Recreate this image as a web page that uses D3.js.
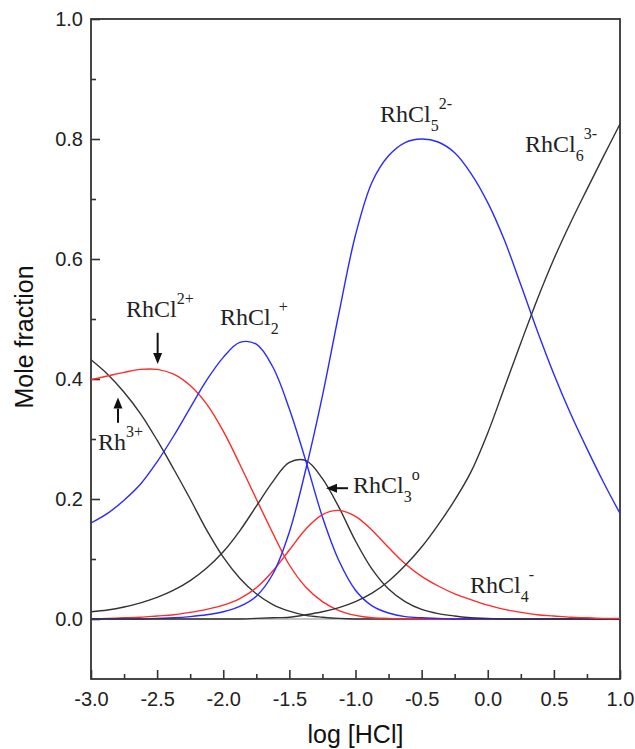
<!DOCTYPE html>
<html>
<head>
<meta charset="utf-8">
<script src="https://cdn.jsdelivr.net/npm/d3@7"></script>
<style>
  body { margin: 0; background: #fff; }
  .axis text { font-family: "Liberation Sans", Arial, sans-serif; font-size: 20px; fill: #222; }
  .axis path { display: none; }
  .axis line { stroke: #333; stroke-width: 1.6px; }
  .title { font-family: "Liberation Sans", Arial, sans-serif; font-size: 25px; fill: #111; }
  .species { font-family: "Liberation Serif", "Times New Roman", serif; font-size: 24px; fill: #222; }
</style>
</head>
<body>
<div id="chart"></div>
<script>
// log [HCl] sample points
const logHCl = [-3.0, -2.875, -2.75, -2.625, -2.5, -2.375, -2.25, -2.125, -2.0, -1.875, -1.75, -1.625,
  -1.5, -1.375, -1.25, -1.125, -1.0, -0.875, -0.75, -0.625, -0.5, -0.375, -0.25, -0.125,
  0.0, 0.125, 0.25, 0.375, 0.5, 0.625, 0.75, 0.875, 1.0];

// mole fractions
const rh = [0.432, 0.408, 0.378, 0.342, 0.298, 0.250, 0.200, 0.148, 0.103, 0.068, 0.042, 0.024,
  0.013, 0.006, 0.003, 0.001, 0, 0, 0, 0, 0, 0, 0, 0, 0, 0, 0, 0, 0, 0, 0, 0, 0];
const rhCl = [0.399, 0.405, 0.411, 0.416, 0.416, 0.408, 0.389, 0.358, 0.313, 0.258, 0.200, 0.143,
  0.090, 0.053, 0.029, 0.014, 0.006, 0.002, 0.001, 0, 0, 0, 0, 0, 0, 0, 0, 0, 0, 0, 0, 0, 0];
const rhCl2 = [0.160, 0.176, 0.198, 0.225, 0.262, 0.305, 0.352, 0.398, 0.436, 0.461, 0.458, 0.420,
  0.350, 0.263, 0.170, 0.097, 0.048, 0.022, 0.010, 0.004, 0.002, 0.001, 0, 0, 0, 0, 0, 0, 0, 0, 0, 0, 0];
const rhCl3 = [0.012, 0.015, 0.020, 0.027, 0.036, 0.048, 0.064, 0.085, 0.112, 0.147, 0.188, 0.229,
  0.261, 0.264, 0.234, 0.186, 0.130, 0.083, 0.050, 0.029, 0.016, 0.009, 0.005, 0.002, 0.001, 0, 0, 0, 0, 0, 0, 0, 0];
const rhCl4 = [0, 0.001, 0.002, 0.003, 0.005, 0.007, 0.011, 0.016, 0.023, 0.034, 0.052, 0.080,
  0.115, 0.150, 0.174, 0.181, 0.171, 0.148, 0.119, 0.092, 0.071, 0.055, 0.042, 0.032,
  0.023, 0.016, 0.011, 0.007, 0.005, 0.003, 0.002, 0.001, 0.001];
const rhCl5 = [0, 0, 0, 0, 0.001, 0.002, 0.004, 0.007, 0.012, 0.021, 0.038, 0.075,
  0.145, 0.250, 0.372, 0.510, 0.640, 0.728, 0.772, 0.794, 0.800, 0.795, 0.777, 0.742,
  0.694, 0.632, 0.557, 0.480, 0.408, 0.343, 0.284, 0.228, 0.176];
const rhCl6 = [0, 0, 0, 0, 0, 0, 0, 0, 0, 0, 0.001, 0.002,
  0.003, 0.007, 0.012, 0.019, 0.029, 0.043, 0.063, 0.089, 0.120, 0.157, 0.198, 0.246,
  0.310, 0.385, 0.460, 0.533, 0.600, 0.660, 0.716, 0.771, 0.825];

const xTicks = [-3.0, -2.5, -2.0, -1.5, -1.0, -0.5, 0.0, 0.5, 1.0];
const yTicks = [0.0, 0.2, 0.4, 0.6, 0.8, 1.0];

class SpeciationChart {
  constructor(parentElement) {
    this.parentElement = parentElement;
    this.series = [
      { values: rh, color: "#333" },
      { values: rhCl, color: "#ff2a2a" },
      { values: rhCl2, color: "#2a2aff" },
      { values: rhCl3, color: "#333" },
      { values: rhCl4, color: "#ff2a2a" },
      { values: rhCl5, color: "#2a2aff" },
      { values: rhCl6, color: "#333" },
    ];
    this.initVis();
  }

  initVis() {
    let vis = this;

    vis.margin = { top: 19, right: 15, bottom: 70, left: 91 };
    vis.width = 635 - vis.margin.left - vis.margin.right;
    vis.height = 749 - vis.margin.top - vis.margin.bottom;

    vis.svg = d3.select("#" + vis.parentElement)
      .append("svg")
      .attr("width", 635)
      .attr("height", 749)
      .append("g")
      .attr("transform", `translate(${vis.margin.left}, ${vis.margin.top})`);

    vis.x = d3.scaleLinear().domain([-3, 1]).range([0, vis.width]);
    vis.y = d3.scaleLinear().domain([-0.1, 1.0]).range([vis.height, 0]);

    // minor ticks (inward)
    vis.svg.append("g").attr("class", "axis")
      .attr("transform", `translate(0, ${vis.height})`)
      .call(d3.axisBottom(vis.x).tickValues(d3.range(-2.75, 1, 0.5)).tickSizeInner(-5).tickSizeOuter(0).tickFormat(""));
    vis.svg.append("g").attr("class", "axis")
      .call(d3.axisLeft(vis.y).tickValues([0.1, 0.3, 0.5, 0.7, 0.9]).tickSizeInner(-5).tickSizeOuter(0).tickFormat(""));

    // major ticks
    vis.svg.append("g").attr("class", "axis")
      .attr("transform", `translate(0, ${vis.height})`)
      .call(d3.axisBottom(vis.x).tickValues(xTicks).tickSizeInner(-9).tickSizeOuter(0)
        .tickPadding(13).tickFormat(d3.format(".1f")));
    vis.svg.append("g").attr("class", "axis")
      .call(d3.axisLeft(vis.y).tickValues(yTicks).tickSizeInner(-9).tickSizeOuter(0)
        .tickPadding(8).tickFormat(d3.format(".1f")));

    // replace unicode minus with hyphen like the original
    vis.svg.selectAll(".axis text").text(function () { return this.textContent.replace("\u2212", "-"); });

    // zero line
    vis.svg.append("line")
      .attr("x1", 0).attr("x2", vis.width)
      .attr("y1", vis.y(0)).attr("y2", vis.y(0))
      .attr("stroke", "#888").attr("stroke-width", 1.2);

    // frame
    vis.svg.append("rect")
      .attr("width", vis.width).attr("height", vis.height)
      .attr("fill", "none").attr("stroke", "#333").attr("stroke-width", 1.8);

    // axis titles
    vis.svg.append("text").attr("class", "title")
      .attr("text-anchor", "middle")
      .attr("transform", `translate(${-58}, ${318}) rotate(-90)`)
      .text("Mole fraction");
    vis.svg.append("text").attr("class", "title")
      .attr("text-anchor", "middle")
      .attr("x", vis.width / 2)
      .attr("y", vis.height + 64)
      .text("log [HCl]");

    vis.line = d3.line()
      .x((d) => vis.x(d[0]))
      .y((d) => vis.y(d[1]))
      .curve(d3.curveCatmullRom.alpha(0.5));

    vis.updateVis();
  }

  updateVis() {
    let vis = this;

    vis.svg.selectAll(".species-line")
      .data(vis.series)
      .enter()
      .append("path")
      .attr("class", "species-line")
      .attr("fill", "none")
      .attr("stroke", (d) => d.color)
      .attr("stroke-width", 1.4)
      .attr("d", (d) => vis.line(logHCl.map((x, i) => [x, d.values[i]])));

    // species labels: [main, sub, sup]
    let labels = [
      { x: -2.735, y: 0.503, main: "RhCl", sub: "", sup: "2+" },
      { x: -2.947, y: 0.282, main: "Rh", sub: "", sup: "3+" },
      { x: -2.025, y: 0.49, main: "RhCl", sub: "2", sup: "+" },
      { x: -1.019, y: 0.21, main: "RhCl", sub: "3", sup: "o" },
      { x: -0.134, y: 0.043, main: "RhCl", sub: "4", sup: "-" },
      { x: -0.815, y: 0.828, main: "RhCl", sub: "5", sup: "2-" },
      { x: 0.282, y: 0.778, main: "RhCl", sub: "6", sup: "3-" },
    ];

    labels.forEach((l) => {
      let t = vis.svg.append("text").attr("class", "species")
        .attr("x", vis.x(l.x)).attr("y", vis.y(l.y));
      t.append("tspan").text(l.main);
      let shift = 0;
      if (l.sub) {
        t.append("tspan").attr("dy", 9).attr("font-size", 16).text(l.sub);
        shift = 9;
      }
      if (l.sup) {
        t.append("tspan").attr("dy", -shift - 13).attr("font-size", 16).text(l.sup);
      }
    });

    // arrows
    let arrows = [
      { x1: -2.496, y1: 0.477, x2: -2.496, y2: 0.425 },
      { x1: -2.796, y1: 0.327, x2: -2.796, y2: 0.369 },
      { x1: -1.057, y1: 0.218, x2: -1.223, y2: 0.218 },
    ];
    arrows.forEach((a) => {
      let x1 = vis.x(a.x1), y1 = vis.y(a.y1), x2 = vis.x(a.x2), y2 = vis.y(a.y2);
      let ang = Math.atan2(y2 - y1, x2 - x1);
      let len = 11, half = 4.5;
      let bx = x2 - len * Math.cos(ang), by = y2 - len * Math.sin(ang);
      vis.svg.append("line")
        .attr("x1", x1).attr("y1", y1).attr("x2", bx).attr("y2", by)
        .attr("stroke", "#111").attr("stroke-width", 2);
      vis.svg.append("path")
        .attr("d", `M${x2},${y2}L${bx - half * Math.sin(ang)},${by + half * Math.cos(ang)}L${bx + half * Math.sin(ang)},${by - half * Math.cos(ang)}Z`)
        .attr("fill", "#111");
    });
  }
}

new SpeciationChart("chart");
</script>
</body>
</html>
